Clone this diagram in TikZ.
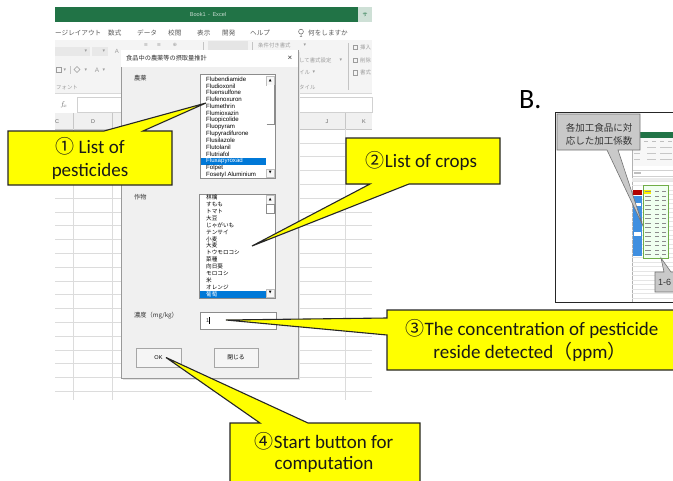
\documentclass[tikz,border=0pt]{standalone}
\usepackage{fontspec}
\setmainfont{Carlito}
\newfontfamily\jp{Noto Sans CJK JP}
\newfontfamily\ui{Liberation Sans}
\newfontfamily\sym{DejaVu Sans}
\definecolor{xlgreen}{HTML}{217346}
\definecolor{callyellow}{HTML}{FFFF00}
\definecolor{gridline}{HTML}{DCDCDC}
\definecolor{ribbon}{HTML}{F4F4F4}
\definecolor{dlgbg}{HTML}{F0F0F0}
\definecolor{selblue}{HTML}{0078D7}
\definecolor{uitext}{HTML}{333333}
\definecolor{faint}{HTML}{9C9C9C}
\definecolor{notegray}{HTML}{C9C9C9}
\definecolor{tblgreen}{HTML}{70AD47}
\definecolor{rowblue}{HTML}{3F8FE0}
\tikzset{
  callout/.style={fill=callyellow, draw=black!85, line width=1.1pt, line join=miter},
  calltext/.style={font=\fontsize{19}{19}\selectfont, text=black!90, anchor=base, inner sep=0},
  gridrule/.style={draw=gridline, line width=0.5pt},
  tabtext/.style={font=\jp\fontsize{6.6}{6.6}\selectfont, text=black!65, anchor=west, inner sep=0},
  faintjp/.style={font=\jp\fontsize{5.4}{5.4}\selectfont, text=faint, inner sep=0},
  faintsym/.style={font=\sym\fontsize{5}{5}\selectfont, text=faint, inner sep=0},
  dlglabel/.style={font=\jp\fontsize{6.2}{6.2}\selectfont, text=uitext, anchor=west, inner sep=0},
  listitem/.style={font=\ui\fontsize{6.1}{6.1}\selectfont, text=black, anchor=west, inner sep=0},
  listjp/.style={font=\jp\fontsize{5.6}{5.6}\selectfont, text=black, anchor=west, inner sep=0},
  boxframe/.style={draw=black!45, fill=white, line width=0.5pt},
  uibutton/.style={draw=black!35, fill=black!4, line width=0.5pt},
  scrollbtn/.style={draw=black!25, fill=black!3, line width=0.4pt},
  arrowglyph/.style={font=\sym\fontsize{3.6}{3.6}\selectfont, text=black, inner sep=0},
  hdrtext/.style={font=\ui\fontsize{5.5}{5.5}\selectfont, text=black!60, inner sep=0},
  notebox/.style={fill=notegray, draw=black!55, line width=0.6pt, line join=miter},
}
\begin{document}
\begin{tikzpicture}[x=1pt,y=-1pt]
\useasboundingbox (0,0) rectangle (673,480);
\fill[white] (0,0) rectangle (673,480);
\begin{scope}
\clip (0,0) rectangle (673,480);

%================ spreadsheet window ================
% title bar
\fill[xlgreen] (55,7) rectangle (358,22);
\fill[xlgreen!22] (358,7) rectangle (372,22);
\node[font=\ui\fontsize{5.6}{5.6}\selectfont, text=white!75!xlgreen, inner sep=0] (wintitle) at (208,14.5) {Book1 \,-\, Excel};
\node[font=\jp\fontsize{5}{5}\selectfont, text=xlgreen, inner sep=0] (signin) at (365,14.5) {サ};

% ribbon tabs
\node[tabtext] (tab1) at (55,33) {ージレイアウト};
\node[tabtext] (tab2) at (108,33) {数式};
\node[tabtext] (tab3) at (137,33) {データ};
\node[tabtext] (tab4) at (168,33) {校閲};
\node[tabtext] (tab5) at (197,33) {表示};
\node[tabtext] (tab6) at (222,33) {開発};
\node[tabtext] (tab7) at (250,33) {ヘルプ};
\draw[black!60, line width=0.5pt] (301,31.6) circle (2.4) (301,34) -- (301,36.3) (299.8,36.4) -- (302.2,36.4);
\node[tabtext] (tab8) at (308,33) {何をしますか};

% ribbon body
\fill[ribbon] (55,40) rectangle (372,93);
\draw[black!15, line width=0.4pt] (55,93) -- (372,93);
% font group
\fill[black!9] (55,47) rectangle (90,56);
\fill[black!9] (92,47) rectangle (108,56);
\node[faintsym] (dd1) at (86,51.5) {▾};
\node[faintsym] (dd2) at (104,51.5) {▾};
\node[font=\ui\fontsize{6}{6}\selectfont, text=faint, inner sep=0] (growA) at (117,51.5) {A};
\draw[faint, line width=0.4pt] (56,67.5) rectangle (61,72.5);
\node[faintsym] (dd3) at (65,70) {▾};
\draw[faint!60, line width=0.4pt] (70,66) -- (70,74);
\draw[faint, line width=0.4pt] (77,66.5) -- (80,69.5) -- (77,72.5) -- (74,69.5) -- cycle;
\node[faintsym] (dd4) at (86,70) {▾};
\node[font=\ui\fontsize{6.5}{6.5}\selectfont, text=faint, inner sep=0] (fontA) at (97,70) {A};
\node[faintsym] (dd5) at (104,70) {▾};
\node[faintjp, anchor=west] (grpfont) at (56,88) {フォント};
% alignment and number groups (upper strip)
\node[faintsym] (al1) at (146,45) {≡};
\node[faintsym] (al2) at (159,45) {≡};
\node[faintsym] (al3) at (175,45) {⊕};
\draw[faint!60, line width=0.4pt] (203,42) -- (203,50);
\fill[black!10] (208,41) rectangle (248,50);
\draw[faint!60, line width=0.4pt] (252,42) -- (252,50);
% styles group, cut by the dialog's right edge
\node[faintjp, anchor=west] (st1) at (258,45.5) {条件付き書式};
\node[faintsym] (dd6) at (305,45.5) {▾};
\node[faintjp, anchor=west] (st2) at (299,60) {して書式設定};
\node[faintsym] (dd7) at (341,60) {▾};
\node[faintjp, anchor=west] (st3) at (299,72.5) {イル};
\node[faintsym] (dd8) at (314,72.5) {▾};
\node[faintjp, anchor=west] (grpstyle) at (299,87) {タイル};
\draw[faint!60, line width=0.4pt] (348,43) -- (348,90);
% cells group
\foreach \yy/\tt in {47/挿入, 60/削除, 72.5/書式}{
  \draw[faint, line width=0.4pt] (353,\yy-2.3) rectangle (357.5,\yy+2.3);
  \node[faintjp, anchor=west] at (360,\yy) {\tt};
}

% formula bar
\node[inner sep=0, text=black!55] (fxsign) at (64,105) {\fontsize{7}{7}\selectfont $f_{\!x}$};
\draw[black!18, fill=white, line width=0.4pt] (77,97.5) rectangle (372,112.5);

% column headers
\fill[black!6] (55,113) rectangle (372,129);
\draw[black!22, line width=0.4pt] (55,129) -- (372,129);
\foreach \xx in {73,112,345}{ \draw[black!22, line width=0.4pt] (\xx,113) -- (\xx,129); }
\node[hdrtext] (colC) at (57,121.5) {C};
\node[hdrtext] (colD) at (93,121.5) {D};
\node[hdrtext] (colJ) at (327,121.5) {J};
\node[hdrtext] (colK) at (364,121.5) {K};

% cell grid
\foreach \k in {1,...,19}{ \draw[gridrule] (55,129+13.8*\k) -- (372,129+13.8*\k); }
\foreach \xx in {73,112,345}{ \draw[gridrule] (\xx,129) -- (\xx,400); }

%================ dialog ================
\fill[black!10] (123,52) rectangle (300,380);
\draw[black!40, fill=dlgbg, line width=0.5pt] (121,50) rectangle (298,378);
\fill[white] (121.3,50.3) rectangle (297.7,67);
\node[dlglabel] (dlgtitle) at (126,58.5) {食品中の農薬等の摂取量推計};
\node[font=\ui\fontsize{8}{8}\selectfont, text=black!80, inner sep=0] (dlgclose) at (290,58.5) {×};

\node[dlglabel] (lblpest) at (134,78.5) {農薬};
\node[dlglabel] (lblcrop) at (134,197) {作物};
\node[dlglabel] (lblconc) at (134,315.5) {濃度（mg/kg）};

% pesticide list
\draw[boxframe] (200,74) rectangle (275,178);
\fill[selblue] (201,158) rectangle (265.5,164.7);
\begin{scope}
\clip (200.5,74.5) rectangle (265.5,177.5);
\foreach \t [count=\i from 0] in {Flubendiamide,Fludioxonil,Fluensulfone,Flufenoxuron,Flumethrin,Flumioxazin,Fluopicolide,Fluopyram,Flupyradifurone,Flusilazole,Flutolanil,Flutriafol,Fluxapyroxad,Folpet,Fosetyl Aluminium}{
  \node[listitem] at (206,79+6.86*\i) {\ifnum\i=12 \color{white}\fi\t};
}
\end{scope}
\draw[scrollbtn] (266.5,76) rectangle (274,85);
\node[arrowglyph] (up1) at (270.2,80.5) {▲};
\draw[fill=white, draw=none] (266.5,85) rectangle (274,124);
\draw[black!45, line width=0.5pt] (266.5,124) -- (274,124) -- (274,85);
\draw[scrollbtn] (266.5,169) rectangle (274,177);
\node[arrowglyph] (down1) at (270.2,173) {▼};

% crop list
\draw[boxframe] (199,194) rectangle (275,298);
\fill[selblue] (200,290.6) rectangle (265.5,297.5);
\begin{scope}
\clip (199.5,194.5) rectangle (265.5,297.5);
\foreach \t [count=\i from 0] in {林檎,すもも,トマト,大豆,じゃがいも,テンサイ,小麦,大麦,トウモロコシ,菜種,向日葵,モロコシ,米,オレンジ,葡萄}{
  \node[listjp] at (206,197.5+6.9*\i) {\ifnum\i=14 \color{white}\fi\t};
}
\end{scope}
\draw[scrollbtn] (266.5,195) rectangle (274,204);
\node[arrowglyph] (up2) at (270.2,199.5) {▲};
\draw[black!45, line width=0.5pt, fill=white] (266.5,204) rectangle (274,213);
\draw[scrollbtn] (266.5,289) rectangle (274,297);
\node[arrowglyph] (down2) at (270.2,293) {▼};

% concentration field
\draw[boxframe] (200,312) rectangle (276,329);
\node[font=\ui\fontsize{5.5}{5.5}\selectfont, text=black!80, anchor=west, inner sep=0] (concval) at (206,320.5) {1};
\draw[black, line width=0.4pt] (209,317) -- (209,324);

% buttons
\draw[uibutton] (136,348) rectangle (181,367);
\node[font=\ui\fontsize{5.6}{5.6}\selectfont, text=black, inner sep=0] (okbtn) at (158.5,357.5) {OK};
\draw[uibutton] (214,348) rectangle (258,367);
\node[font=\jp\fontsize{5.8}{5.8}\selectfont, text=black, inner sep=0] (closebtn) at (236,357.5) {閉じる};

%================ callouts ================
\coordinate (tip1) at (206,103);
\coordinate (tip2) at (252,246);
\coordinate (tip3) at (226,320);
\coordinate (tip4) at (166,357.5);

\draw[callout] (8,131) -- (104,131) -- (tip1) -- (143,131) -- (172,131) -- (172,185) -- (8,185) -- cycle;
\node[calltext] (c1a) at (90,153) {{\jp ①} List of};
\node[calltext] (c1b) at (90,176) {pesticides};

\draw[callout] (346,138) -- (500,138) -- (500,184) -- (409,184) -- (tip2) -- (370,184) -- (346,184) -- cycle;
\node[calltext] (c2) at (421.5,167.5) {{\jp ②}List of crops};

\draw[callout] (387,310) -- (690,310) -- (690,370) -- (387,370) -- (387,335) -- (tip3) -- (387,318) -- cycle;
\node[calltext] (c3a) at (532,335.5) {{\jp ③}The concentration of pesticide};
\node[calltext] (c3b) at (530,358) {reside detected{\jp （}ppm{\jp ）}};

\draw[callout] (230,423) -- (260,423) -- (tip4) -- (308,423) -- (420,423) -- (420,495) -- (230,495) -- cycle;
\node[calltext] (c4a) at (324,448) {{\jp ④}Start button for};
\node[calltext] (c4b) at (324,469.5) {computation};

%================ panel B ================
\node[font=\fontsize{28}{28}\selectfont, anchor=base west, inner sep=0] (labelB) at (519,108) {B.};
\draw[black!85, line width=0.9pt, fill=white] (555,112) rectangle (690,302);
\begin{scope}
\clip (555.5,112.5) rectangle (690,301.5);
% miniature worksheet
\fill[xlgreen] (640,132) rectangle (690,138);
\fill[black!3] (632,138) rectangle (690,166);
\foreach \xx in {644,652,660,668}{ \fill[black!25] (\xx,140.5) rectangle (\xx+4,142); }
\foreach \yy in {147,153,159}{
  \fill[black!22] (634,\yy) rectangle (640,\yy+1.4);
  \fill[black!22] (647,\yy) rectangle (656,\yy+1.4);
  \fill[black!22] (660,\yy) rectangle (672,\yy+1.4);
}
\draw[black!18, line width=0.3pt] (632,170) rectangle (690,176);
\fill[black!25] (634,172.3) rectangle (641,173.6);
\draw[black!30, line width=0.4pt] (632,140) -- (632,302);
\foreach \k in {0,...,26}{ \draw[black!10, line width=0.3pt] (632,181+4.5*\k) -- (690,181+4.5*\k); }
\fill[black!8] (632,178) rectangle (690,181);
% highlighted row labels
\fill[rowblue] (633,196) rectangle (642,256);
\fill[white] (634,203) rectangle (641,206);
\fill[white] (634,232) rectangle (641,236);
\fill[red!70!black] (633,190) rectangle (642,195);
% table of coefficients
\fill[green!6] (643,185) rectangle (668,258);
\fill[yellow] (644,190) rectangle (651,194);
\foreach \k in {0,...,14}{
  \fill[black!45] (645,191+4.5*\k) rectangle (651,192+4.5*\k);
  \fill[black!45] (655,191+4.5*\k) rectangle (659,192+4.5*\k);
  \fill[black!45] (662,191+4.5*\k) rectangle (666,192+4.5*\k);
}
\draw[tblgreen, line width=0.8pt] (643,185) rectangle (668,258);
% note callouts
\coordinate (tipB1) at (643,226);
\draw[notebox] (557,114) -- (640,114) -- (640,150) -- (618,150) -- (tipB1) -- (607,150) -- (557,150) -- cycle;
\node[font=\jp\fontsize{9.5}{9.5}\selectfont, text=black!80, anchor=base, inner sep=0] (noteB1a) at (599,131) {各加工食品に対};
\node[font=\jp\fontsize{9.5}{9.5}\selectfont, text=black!80, anchor=base, inner sep=0] (noteB1b) at (599,144) {応した加工係数};
\coordinate (tipB2) at (661,258);
\draw[notebox] (655,272) -- (664,272) -- (tipB2) -- (671,272) -- (695,272) -- (695,292) -- (655,292) -- cycle;
\node[font=\ui\fontsize{9}{9}\selectfont, text=black!80, anchor=base west, inner sep=0] (noteB2) at (658,285.5) {1-6};
\end{scope}

\end{scope}
\end{tikzpicture}
\end{document}
